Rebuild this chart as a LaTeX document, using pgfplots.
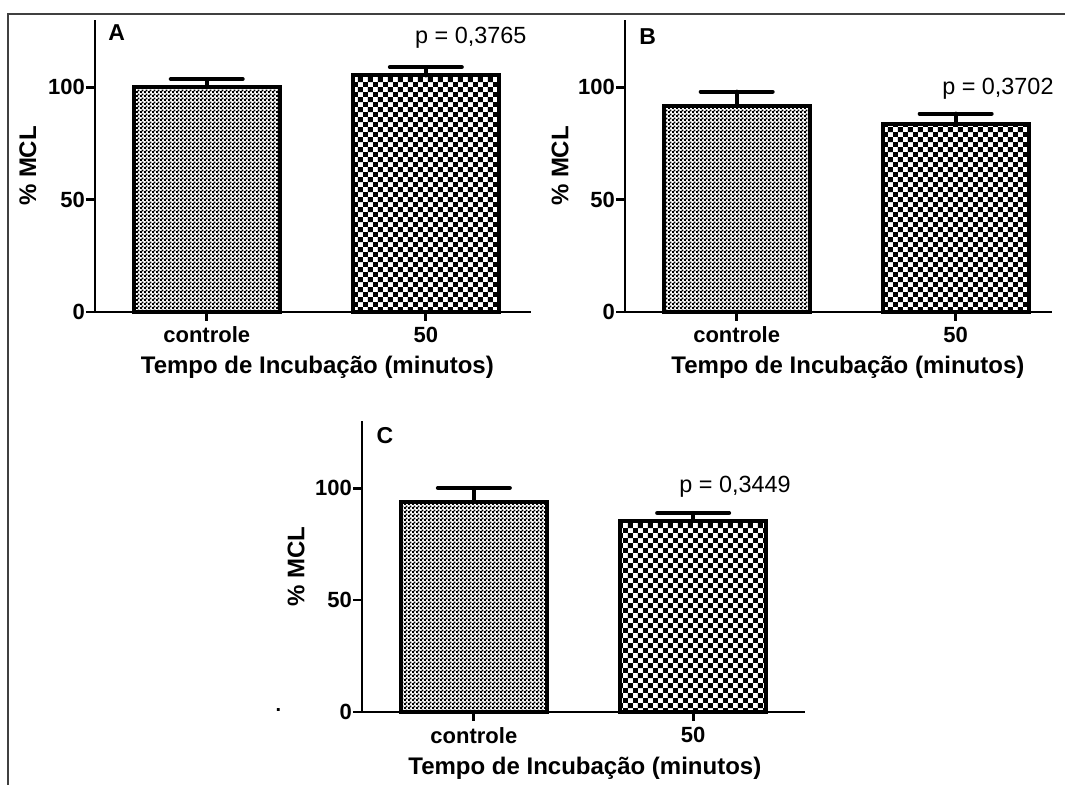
\documentclass[border=0pt]{standalone}
\usepackage{fontspec}
\setmainfont{Liberation Sans}
\usepackage{pgfplots}
\pgfplotsset{compat=1.18}
\usetikzlibrary{patterns}

% fine and coarse checkerboard fills for the two groups
\pgfdeclarepatternformonly{finecheck}{\pgfqpoint{0pt}{0pt}}{\pgfqpoint{2pt}{2pt}}{\pgfqpoint{2pt}{2pt}}{%
  \pgfpathrectangle{\pgfqpoint{0pt}{0pt}}{\pgfqpoint{1.15pt}{1.15pt}}%
  \pgfpathrectangle{\pgfqpoint{1pt}{1pt}}{\pgfqpoint{1.15pt}{1.15pt}}%
  \pgfusepath{fill}}
\pgfdeclarepatternformonly{coarsecheck}{\pgfqpoint{0pt}{0pt}}{\pgfqpoint{5.2pt}{5.2pt}}{\pgfqpoint{5.2pt}{5.2pt}}{%
  \pgfpathrectangle{\pgfqpoint{0pt}{0pt}}{\pgfqpoint{2.6pt}{2.6pt}}%
  \pgfpathrectangle{\pgfqpoint{2.6pt}{2.6pt}}{\pgfqpoint{2.6pt}{2.6pt}}%
  \pgfusepath{fill}}

\pgfplotsset{
  mclpanel/.style={
    scale only axis, height=146pt, anchor=south west,
    ymin=0, ymax=130, ytick={0,50,100},
    xmin=-0.51, xtick={0,1}, xticklabels={controle,50},
    axis x line=bottom, axis y line=left,
    axis line style={-, line width=1.4pt, black},
    tick align=outside, major tick length=4.5pt,
    tick style={line width=1.4pt, black},
    xlabel={Tempo de Incubação (minutos)}, ylabel={\% MCL},
    label style={font=\fontsize{12}{14}\selectfont\bfseries},
    tick label style={font=\fontsize{11}{13}\selectfont\bfseries},
    yticklabel style={xshift=3pt},
    xticklabel style={yshift=0.5pt},
    /pgf/number format/assume math mode=true,
    ybar, bar width=73pt, clip=false,
  },
  sembar/.style={
    draw=black, line width=2pt, bar shift=0pt,
    error bars/y dir=plus, error bars/y explicit,
    error bars/error bar style={line width=2pt, line cap=round, black},
    error bars/error mark options={rotate=90, mark size=18pt, line width=2pt, line cap=round, black},
  },
}
\tikzset{
  letter/.style={anchor=north west, inner sep=0pt, font=\fontsize{11.5}{13}\selectfont\bfseries},
  pval/.style={font=\fontsize{11.7}{14}\selectfont},
}

\begin{document}
\begin{tikzpicture}
\path[use as bounding box] (0,0) rectangle (532.5pt,392.5pt);
% outer frame (left and top edges)
\draw[line width=1pt, black!75] (4.15pt,-1pt) -- (4.15pt,385.4pt) -- (533.5pt,385.4pt);

% Panel A
\begin{axis}[mclpanel, at={(47.5pt,236.5pt)}, width=218pt, xmax=1.48,
  xlabel style={at={(axis description cs:0.51,-0.188)}, anchor=center},
  ylabel style={at={(axis description cs:-0.154,0.5)}, anchor=center}]
\addplot[pattern=finecheck, sembar] coordinates {(0,100.0) +- (0,3.7)};
\addplot[pattern=coarsecheck, sembar] coordinates {(1,105.3) +- (0,3.7)};
\node[letter] at (axis description cs:0.03,0.985) {A};
\node[pval] at (axis cs:1.205,122) {p = 0,3765};
\end{axis}

% Panel B
\begin{axis}[mclpanel, at={(312.5pt,236.5pt)}, width=213.5pt, xmax=1.44,
  xlabel style={at={(axis description cs:0.522,-0.188)}, anchor=center},
  ylabel style={at={(axis description cs:-0.152,0.5)}, anchor=center}]
\addplot[pattern=finecheck, sembar] coordinates {(0,91.8) +- (0,6.3)};
\addplot[pattern=coarsecheck, sembar] coordinates {(1,83.8) +- (0,4.5)};
\node[letter] at (axis description cs:0.033,0.97) {B};
\node[pval] at (axis cs:1.193,99.6) {p = 0,3702};
\end{axis}

% Panel C
\begin{axis}[mclpanel, at={(181pt,36.5pt)}, width=221.5pt, height=145.5pt, xmax=1.51,
  xlabel style={at={(axis description cs:0.503,-0.192)}, anchor=center},
  ylabel style={at={(axis description cs:-0.149,0.5)}, anchor=center}]
\addplot[pattern=finecheck, sembar] coordinates {(0,93.9) +- (0,6.2)};
\addplot[pattern=coarsecheck, sembar] coordinates {(1,85.4) +- (0,3.5)};
\node[letter] at (axis description cs:0.032,0.98) {C};
\node[pval] at (axis cs:1.191,100.4) {p = 0,3449};
\end{axis}

\node[inner sep=0pt, font=\bfseries] at (139.25pt,37.5pt) {.};
\end{tikzpicture}
\end{document}
